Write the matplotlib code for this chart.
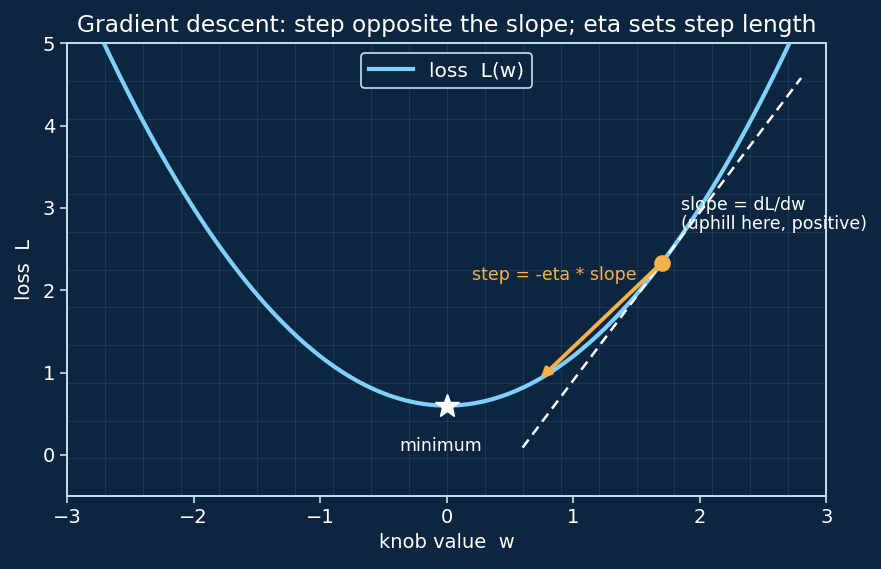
import numpy as np
import matplotlib
matplotlib.use("Agg")
import matplotlib.pyplot as plt

# loss curve L(w) = L_MIN + CURV * w^2
L_MIN = 0.6
CURV = 0.6
w_range = (-3, 3)
l_range = (-0.5, 5)

# current point, tangent span and the step target
w_now = 1.7
tangent_span = (0.6, 2.8)
w_next = 0.74
w_star = 0.0

BG = "#0c2640"
FG = "#c9def0"
BLUE = "#7fd0fb"
ORANGE = "#f8b048"


def loss(w):
    return L_MIN + CURV * w ** 2


fig = plt.figure(figsize=(8.81, 5.69), dpi=100, facecolor=BG)
ax = fig.add_axes([0.076, 0.128, 0.862, 0.796], facecolor=BG)

# faint square grid behind everything
for gx in np.linspace(0, 1, 21):
    ax.axvline(w_range[0] + gx * (w_range[1] - w_range[0]), color="#2a4a66", lw=0.6, alpha=0.6, zorder=0)
for gy in np.linspace(0, 1, 13):
    ax.axhline(l_range[0] + gy * (l_range[1] - l_range[0]), color="#2a4a66", lw=0.6, alpha=0.6, zorder=0)

w = np.linspace(-3, 3, 400)
ax.plot(w, loss(w), color=BLUE, lw=3, label="loss  L(w)", zorder=3)

slope = 2 * CURV * w_now
wt = np.array(tangent_span)
ax.plot(wt, loss(w_now) + slope * (wt - w_now), color="white", lw=1.8, ls=(0, (4, 2.5)), zorder=4)

ax.annotate("", xy=(w_next, loss(w_next)), xytext=(w_now, loss(w_now)),
            arrowprops=dict(arrowstyle="-|>", color=ORANGE, lw=2.8, mutation_scale=14,
                            shrinkA=0, shrinkB=0), zorder=5)
ax.plot(w_now, loss(w_now), "o", color=ORANGE, ms=11, zorder=6)
ax.plot(w_star, loss(w_star), "*", color="white", ms=18, zorder=6)

ax.text(1.85, 2.69, "slope = dL/dw\n(uphill here, positive)", color="white", fontsize=12.5,
        ha="left", va="bottom", linespacing=1.1)
ax.text(1.5, 2.08, "step = -eta * slope", color=ORANGE, fontsize=12.5, ha="right", va="bottom")
ax.text(-0.05, 0.0, "minimum", color="white", fontsize=12.5, ha="center", va="bottom")

ax.set_xlim(*w_range)
ax.set_ylim(*l_range)
ax.set_xticks([-3, -2, -1, 0, 1, 2, 3])
ax.set_yticks([0, 1, 2, 3, 4, 5])
ax.tick_params(colors=FG, labelcolor="white", labelsize=14, width=1.2, length=5)
for s in ax.spines.values():
    s.set_color(FG)
    s.set_linewidth(1.4)

ax.set_xlabel("knob value  w", color="white", fontsize=14)
ax.set_ylabel("loss  L", color="white", fontsize=14, labelpad=6)
ax.set_title("Gradient descent: step opposite the slope; eta sets step length",
             color="white", fontsize=16.8, pad=8)

leg = ax.legend(loc="upper center", fontsize=14.5, facecolor=BG, edgecolor=FG,
                framealpha=1, labelcolor="white", borderaxespad=0.5, handlelength=2.2)
leg.get_frame().set_linewidth(1.2)

fig.savefig("out.png", dpi=100, facecolor=BG)
